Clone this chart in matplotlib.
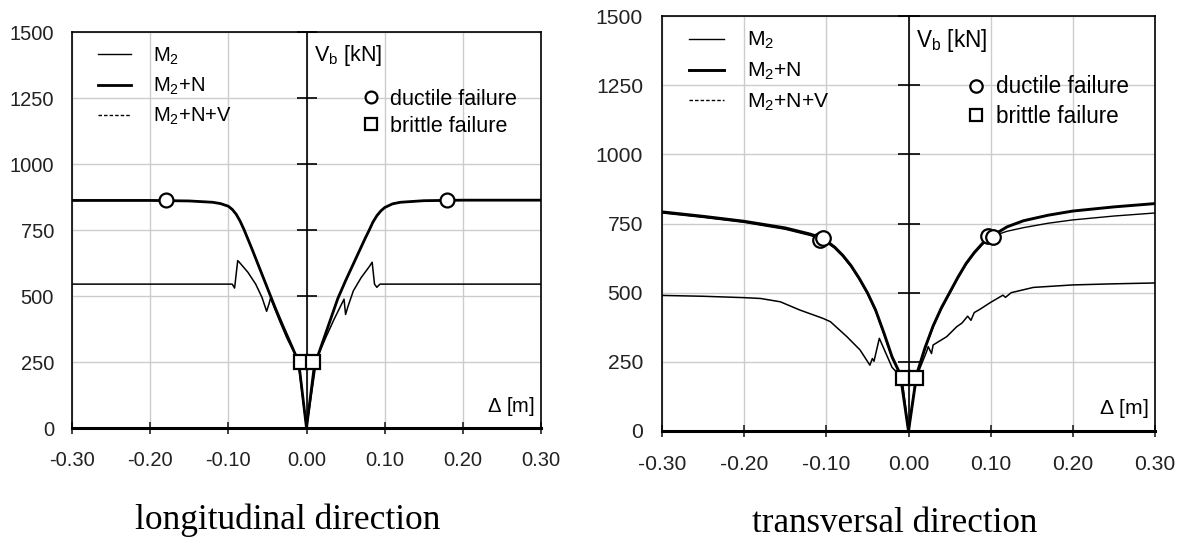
import numpy as np
import matplotlib
matplotlib.use('Agg')
import matplotlib.pyplot as plt
from matplotlib.lines import Line2D

plt.rcParams['font.family'] = ['Liberation Sans', 'DejaVu Sans']
plt.rcParams['mathtext.fontset'] = 'custom'
plt.rcParams['mathtext.rm'] = 'Liberation Sans'
plt.rcParams['mathtext.it'] = 'Liberation Sans:italic'
plt.rcParams['mathtext.default'] = 'regular'

# axis ticks
x_ticks = [-0.30, -0.20, -0.10, 0.00, 0.10, 0.20, 0.30]
y_ticks = [0, 250, 500, 750, 1000, 1250, 1500]

# longitudinal direction: M2 and M2+N curves (coincide)
lon_x = [-0.30, -0.20, -0.15, -0.12, -0.11, -0.10, -0.095, -0.09, -0.085, -0.08, -0.07, -0.06, -0.05, -0.04,
         -0.03, -0.02, -0.01, 0.0, 0.01, 0.02, 0.03, 0.04, 0.05, 0.06, 0.07, 0.075, 0.08, 0.085, 0.09, 0.095,
         0.10, 0.11, 0.12, 0.15, 0.20, 0.30]
lon_m2n = [862, 862, 860, 855, 850, 840, 828, 810, 784, 752, 680, 605, 530, 455,
           385, 318, 250, 0, 235, 320, 405, 490, 558, 622, 686, 718, 748, 780, 804, 822,
           835, 849, 855, 861, 863, 863]
lon_m2 = [862, 862, 860, 855, 850, 840, 828, 810, 784, 752, 680, 605, 530, 455,
          385, 318, 250, 0, 235, 320, 405, 490, 558, 622, 686, 718, 748, 780, 804, 822,
          835, 849, 855, 861, 863, 863]

# longitudinal direction: M2+N+V
lon_v_x = [-0.30, -0.095, -0.092, -0.088, -0.086, -0.075, -0.065, -0.057, -0.051, -0.048, -0.046, -0.035, -0.025,
           -0.011, 0.0, 0.013, 0.025, 0.035, 0.045, 0.048, 0.050, 0.053, 0.06, 0.07, 0.08, 0.084, 0.087, 0.090,
           0.094, 0.30]
lon_v = [545, 545, 530, 634, 628, 590, 545, 495, 442, 470, 492, 410, 340,
         258, 0, 262, 345, 410, 470, 488, 430, 460, 520, 570, 610, 628, 545, 533,
         545, 545]

# longitudinal failure points
lon_duct_x = [-0.18, 0.18]
lon_duct_y = [862, 862]
lon_brit_x = [-0.007, 0.008]
lon_brit_y = [250, 250]

# transversal direction: M2+N
tr_x = [-0.30, -0.25, -0.20, -0.15, -0.12, -0.105, -0.09, -0.08, -0.07, -0.06, -0.05, -0.04, -0.03, -0.02, -0.01,
        0.0, 0.01, 0.02, 0.03, 0.04, 0.05, 0.06, 0.07, 0.08, 0.09, 0.10, 0.12, 0.14, 0.17, 0.20, 0.25, 0.30]
tr_m2n = [792, 776, 758, 734, 712, 698, 665, 635, 598, 552, 500, 437, 355, 268, 205,
          0, 205, 300, 380, 445, 500, 555, 605, 645, 678, 702, 738, 760, 780, 795, 810, 822]
# transversal direction: M2
tr_m2 = [788, 772, 754, 729, 707, 693, 661, 631, 594, 548, 496, 433, 351, 264, 202,
         0, 202, 296, 376, 441, 496, 551, 601, 641, 674, 702, 722, 735, 751, 763, 777, 788]

# transversal direction: M2+N+V
tr_v_x = [-0.30, -0.25, -0.20, -0.18, -0.156, -0.132, -0.104, -0.095, -0.075, -0.059, -0.047, -0.044, -0.042,
          -0.0355, -0.02, -0.008, 0.0, 0.009, 0.013, 0.022, 0.024, 0.028, 0.030, 0.0465, 0.0587, 0.065, 0.072,
          0.076, 0.080, 0.087, 0.100, 0.115, 0.118, 0.125, 0.152, 0.20, 0.25, 0.30]
tr_v = [490, 487, 482, 479, 467, 437, 407, 395, 341, 293, 238, 262, 252,
        335, 230, 192, 0, 190, 220, 287, 305, 280, 311, 341, 377, 390, 415,
        400, 428, 440, 465, 491, 483, 500, 519, 528, 532, 535]

# transversal failure points
tr_duct_x = [-0.108, -0.104, 0.097, 0.103]
tr_duct_y = [692, 698, 706, 700]
tr_brit_x = [-0.007, 0.009]
tr_brit_y = [190, 190]


def draw_panel(ax, s, x, m2, m2n, vx, v, duct_x, duct_y, brit_x, brit_y):
    # s scales fonts and marks (right panel is drawn slightly larger)
    fs = 14.5 * s
    ax.set_xlim(-0.3, 0.3)
    ax.set_ylim(0, 1500)
    ax.set_xticks(x_ticks)
    ax.set_yticks(y_ticks)
    ax.set_xticklabels([f'{t:.2f}' for t in x_ticks])
    ax.grid(True, color='#cccccc', lw=1.0)
    ax.set_axisbelow(True)
    for sp in ax.spines.values():
        sp.set_linewidth(1.2)
    ax.spines['bottom'].set_linewidth(2.2)
    ax.tick_params(axis='x', direction='inout', length=9, width=1.2, pad=12 * s, labelsize=fs, colors='#222222')
    ax.tick_params(axis='y', length=0, pad=13 * s, labelsize=fs, colors='#222222')

    # vertical axis through zero with its own ticks
    ax.axvline(0, color='black', lw=1.2, zorder=2)
    ax.plot(np.zeros(len(y_ticks) - 1), y_ticks[1:], ls='none', marker='_', ms=15 * s, mew=1.2, color='black',
            zorder=2, clip_on=False)

    ax.plot(x, m2, color='black', lw=1.0, zorder=3)
    ax.plot(x, m2n, color='black', lw=2.0 * s, zorder=4)
    ax.plot(vx, v, color='black', lw=1.1, zorder=3)
    ax.plot(duct_x, duct_y, ls='none', marker='o', ms=10 * s, mfc='white', mec='black', mew=1.6, zorder=5)
    ax.plot(brit_x, brit_y, ls='none', marker='s', ms=10 * s, mfc='white', mec='black', mew=1.6, zorder=5)

    # legends
    h1 = [Line2D([], [], color='black', lw=1.0),
          Line2D([], [], color='black', lw=2.0 * s),
          Line2D([], [], color='black', lw=1.0, ls=(0, (2.5, 1.5)))]
    leg1 = ax.legend(h1, ['M$_2$', 'M$_2$+N', 'M$_2$+N+V'], loc='upper left', bbox_to_anchor=(-0.267, 1449),
                     bbox_transform=ax.transData, frameon=False, fontsize=fs, handlelength=1.66,
                     handletextpad=1.07, labelspacing=0.45, borderpad=0, borderaxespad=0)
    ax.add_artist(leg1)
    h2 = [Line2D([], [], ls='none', marker='o', ms=8.5 * s, mfc='white', mec='black', mew=1.6),
          Line2D([], [], ls='none', marker='s', ms=8.5 * s, mfc='white', mec='black', mew=1.6)]
    ax.legend(h2, ['ductile failure', 'brittle failure'], loc='upper left', bbox_to_anchor=(0.0715, 1285),
              bbox_transform=ax.transData, frameon=False, fontsize=15.5 * s, handlelength=0.8,
              handletextpad=0.48, labelspacing=0.29, borderpad=0, borderaxespad=0)

    ax.text(0.009, 1410, 'V$_b$ [kN]', fontsize=15.5 * s, va='center', ha='left')
    ax.text(0.292, 80, '$\\Delta$ [m]', fontsize=fs, va='center', ha='right')


fig = plt.figure(figsize=(11.89, 5.41), dpi=100)
ax1 = fig.add_axes([72 / 1189, 113 / 541, 469 / 1189, 396 / 541])
ax2 = fig.add_axes([662 / 1189, 110 / 541, 493 / 1189, 415 / 541])

draw_panel(ax1, 1.0, lon_x, lon_m2, lon_m2n, lon_v_x, lon_v, lon_duct_x, lon_duct_y, lon_brit_x, lon_brit_y)
draw_panel(ax2, 1.048, tr_x, tr_m2, tr_m2n, tr_v_x, tr_v, tr_duct_x, tr_duct_y, tr_brit_x, tr_brit_y)

fig.text(288 / 1189, 12 / 541, 'longitudinal direction', ha='center', va='baseline',
         family='Liberation Serif', fontsize=25.5)
fig.text(895 / 1189, 9 / 541, 'transversal direction', ha='center', va='baseline',
         family='Liberation Serif', fontsize=25.2)

fig.savefig('out.png', dpi=100)
